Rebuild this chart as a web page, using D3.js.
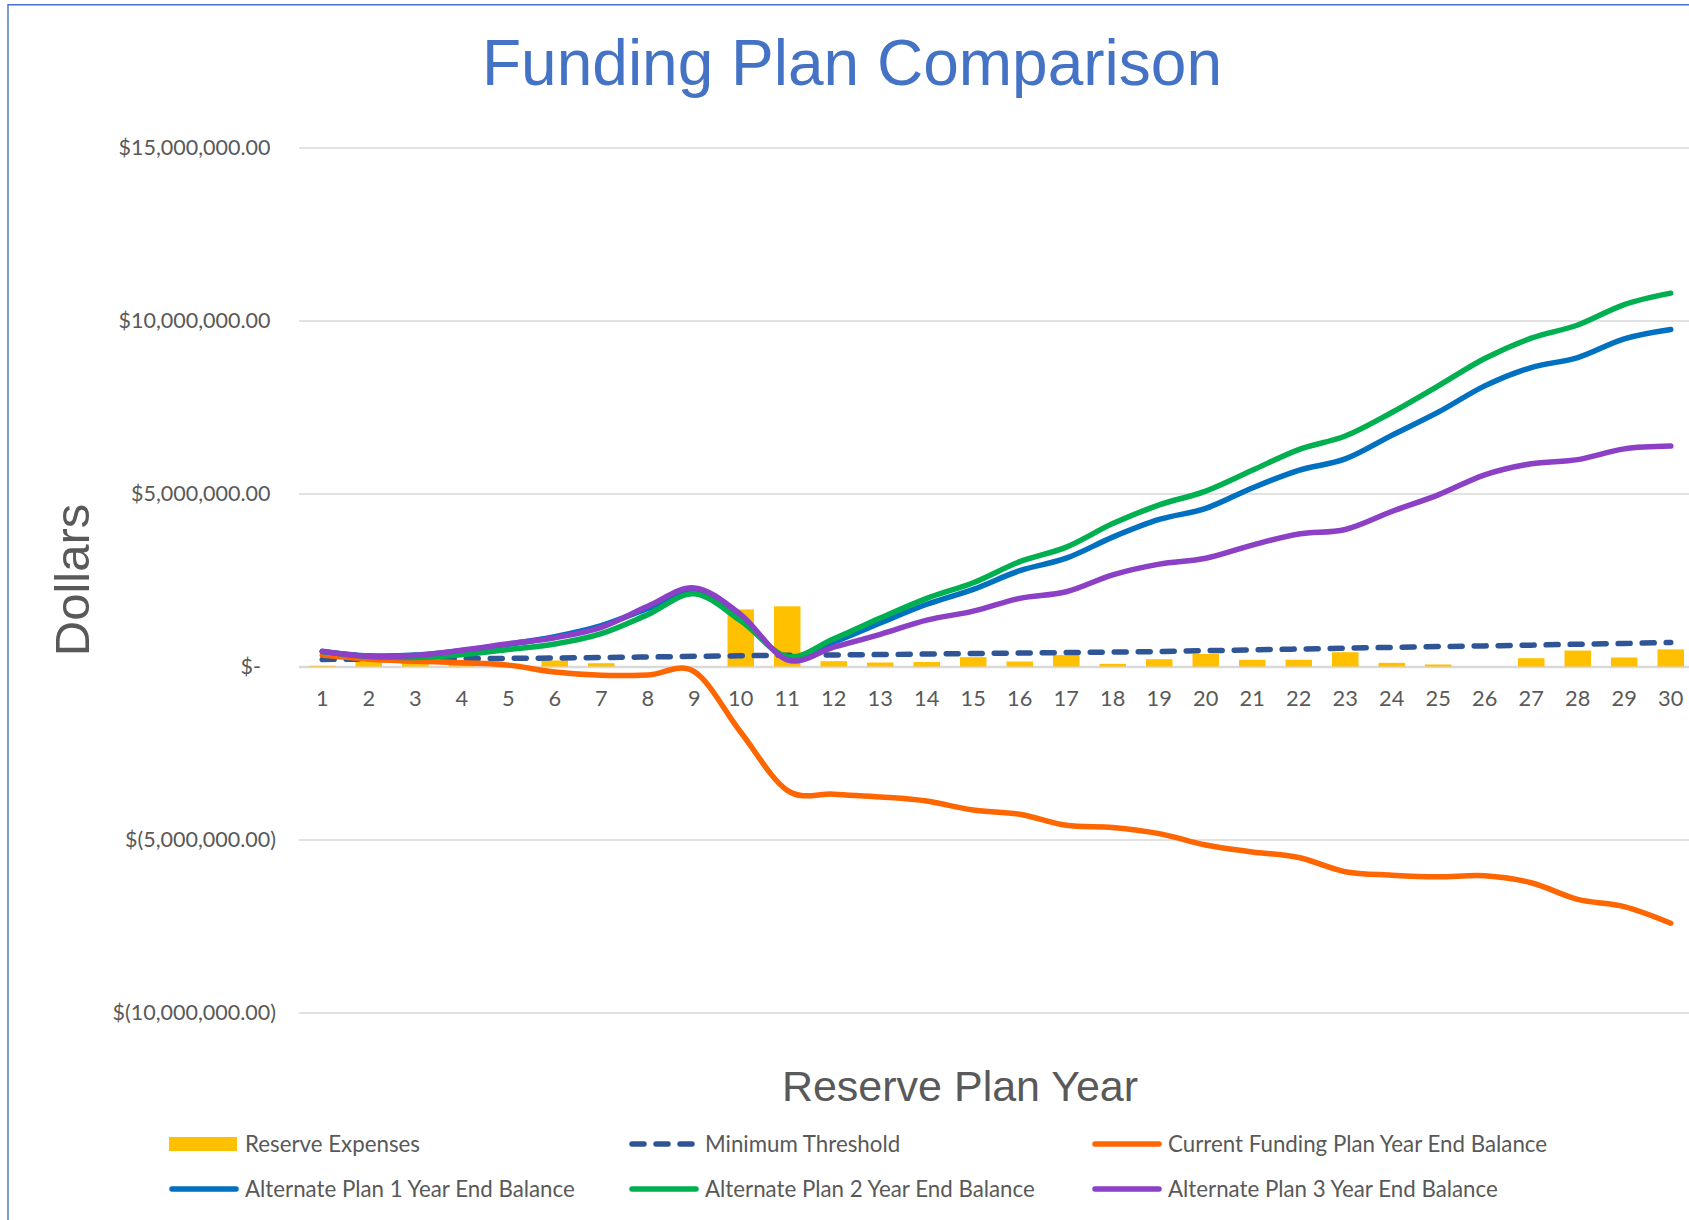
<!DOCTYPE html>
<html>
<head>
<meta charset="utf-8">
<script src="https://cdn.jsdelivr.net/npm/d3@7"></script>
<style>
  html, body { margin: 0; padding: 0; background: #fff; }
  svg { display: block; }
</style>
</head>
<body>
<div id="chart"></div>
<script>
// categories
const years = [1, 2, 3, 4, 5, 6, 7, 8, 9, 10, 11, 12, 13, 14, 15,
	16, 17, 18, 19, 20, 21, 22, 23, 24, 25, 26, 27, 28, 29, 30];

// series values (dollars)
const reserveExpenses = [20000, 150000, 100000, 60000, 80000, 175000, 96000, 0, 0, 1650000,
	1740000, 154000, 115000, 130000, 270000, 144000, 330000, 77000, 211000, 365000,
	195000, 195000, 413000, 106000, 58000, 0, 240000, 461000, 260000, 495000];

const minimumThreshold = [205000, 210000, 218000, 226000, 235000, 245000, 260000, 275000, 295000, 310000,
	325000, 335000, 345000, 360000, 375000, 390000, 404000, 418000, 433000, 458000,
	480000, 505000, 529000, 553000, 575000, 596000, 617000, 644000, 665000, 695000];

const currentPlan = [330000, 210000, 155000, 105000, 40000, -160000, -255000, -245000, -150000, -1900000,
	-3580000, -3690000, -3770000, -3890000, -4150000, -4270000, -4590000, -4650000, -4830000, -5160000,
	-5360000, -5520000, -5930000, -6030000, -6080000, -6050000, -6250000, -6730000, -6940000, -7420000];

const altPlan1 = [430000, 310000, 330000, 460000, 640000, 860000, 1180000, 1680000, 2200000, 1390000,
	252000, 707000, 1260000, 1800000, 2230000, 2770000, 3130000, 3740000, 4250000, 4570000,
	5160000, 5670000, 6000000, 6680000, 7350000, 8110000, 8640000, 8930000, 9470000, 9740000];

const altPlan2 = [430000, 290000, 260000, 340000, 490000, 650000, 950000, 1500000, 2100000, 1320000,
	290000, 800000, 1400000, 1970000, 2420000, 3030000, 3450000, 4130000, 4670000, 5070000,
	5670000, 6270000, 6660000, 7340000, 8110000, 8900000, 9490000, 9870000, 10460000, 10790000];

const altPlan3 = [440000, 295000, 320000, 470000, 655000, 830000, 1130000, 1740000, 2270000, 1500000,
	194000, 560000, 930000, 1340000, 1600000, 1970000, 2160000, 2650000, 2960000, 3130000,
	3510000, 3830000, 3960000, 4480000, 4960000, 5540000, 5860000, 5980000, 6290000, 6370000];

// tick labels
const yTicks = [-10000000, -5000000, 0, 5000000, 10000000, 15000000];
const yTickLabels = ['$(10,000,000.00)', '$(5,000,000.00)', '$-', '$5,000,000.00', '$10,000,000.00', '$15,000,000.00'];

const lineSeries = [
	{ name: 'Minimum Threshold', values: minimumThreshold, color: '#2F5597', dashed: true },
	{ name: 'Current Funding Plan Year End Balance', values: currentPlan, color: '#FF6600' },
	{ name: 'Alternate Plan 1 Year End Balance', values: altPlan1, color: '#0070C0' },
	{ name: 'Alternate Plan 2 Year End Balance', values: altPlan2, color: '#00B050' },
	{ name: 'Alternate Plan 3 Year End Balance', values: altPlan3, color: '#8B40C6' }
];

const width = 1689;
const height = 1220;
const plotLeft = 299;
const step = 46.5;
const lineWidth = 5.5;
const textColor = '#595959';
const tickFont = 'Lato, "Open Sans", sans-serif';

const svg = d3.select('#chart').append('svg')
	.attr('width', width)
	.attr('height', height);

// frame (only top and left edges visible)
svg.append('path')
	.attr('d', `M8,${height} L8,4.7 L${width},4.7`)
	.attr('fill', 'none')
	.attr('stroke', '#4472C4')
	.attr('stroke-width', 1.4);

const x = d3.scaleBand()
	.domain(years)
	.range([plotLeft, plotLeft + years.length * step])
	.paddingInner(0.43)
	.paddingOuter(0.215);

const y = d3.scaleLinear()
	.domain([-10000000, 15000000])
	.range([1012.5, 147.5]);

// gridlines + y labels
const yAxis = svg.append('g')
	.attr('transform', `translate(${plotLeft},0)`)
	.call(d3.axisLeft(y)
		.tickValues(yTicks)
		.tickSize(-(width - plotLeft))
		.tickPadding(23)
		.tickFormat((d, i) => yTickLabels[i]));

yAxis.select('.domain').remove();
yAxis.selectAll('.tick line')
	.attr('stroke', '#D9D9D9')
	.attr('stroke-width', d => d === 0 ? 2.6 : 1.5);
yAxis.selectAll('.tick text')
	.attr('fill', textColor)
	.style('font-family', tickFont)
	.style('font-size', '21.5px')
	.attr('x', function(d, i) {
		const lab = yTickLabels[i];
		if (lab === '$-') return -38;
		return lab.endsWith(')') ? -23 : -28.5;
	});

// bars
svg.append('g')
	.selectAll('rect')
	.data(years.map((yr, i) => ({ year: yr, value: reserveExpenses[i] })))
	.enter().append('rect')
	.attr('x', d => x(d.year))
	.attr('width', x.bandwidth())
	.attr('y', d => y(Math.max(0, d.value)))
	.attr('height', d => Math.abs(y(d.value) - y(0)))
	.attr('fill', '#FFC000');

// lines
const line = d3.line()
	.x(d => x(d.year) + x.bandwidth() / 2)
	.y(d => y(d.value))
	.curve(d3.curveCardinal.tension(0));

lineSeries.forEach(function(s) {
	svg.append('path')
		.datum(years.map((yr, i) => ({ year: yr, value: s.values[i] })))
		.attr('fill', 'none')
		.attr('stroke', s.color)
		.attr('stroke-width', lineWidth)
		.attr('stroke-linecap', 'round')
		.attr('stroke-linejoin', 'round')
		.attr('stroke-dasharray', s.dashed ? '12,12' : null)
		.attr('d', line);
});

// x labels
const xAxis = svg.append('g')
	.attr('transform', `translate(0,${y(0)})`)
	.call(d3.axisBottom(x).tickSize(0).tickPadding(0));
xAxis.select('.domain').remove();
xAxis.selectAll('.tick text')
	.attr('y', 32)
	.attr('dy', '0.35em')
	.attr('fill', textColor)
	.style('font-family', tickFont)
	.style('font-size', '21.8px');

// titles
svg.append('text')
	.attr('x', 852)
	.attr('y', 85)
	.attr('text-anchor', 'middle')
	.attr('fill', '#4472C4')
	.style('font-family', '"Liberation Sans", Arial, sans-serif')
	.style('font-size', '64px')
	.text('Funding Plan Comparison');

svg.append('text')
	.attr('x', 960)
	.attr('y', 1101)
	.attr('text-anchor', 'middle')
	.attr('fill', textColor)
	.style('font-family', '"Liberation Sans", Arial, sans-serif')
	.style('font-size', '43px')
	.text('Reserve Plan Year');

svg.append('text')
	.attr('transform', 'translate(89,580) rotate(-90)')
	.attr('text-anchor', 'middle')
	.attr('fill', textColor)
	.style('font-family', '"Liberation Sans", Arial, sans-serif')
	.style('font-size', '49px')
	.text('Dollars');

// legend
const legendItems = [
	{ name: 'Reserve Expenses', color: '#FFC000', bar: true },
	lineSeries[0], lineSeries[1], lineSeries[2], lineSeries[3], lineSeries[4]
];
const legendCols = [169, 629, 1092];
const legendRows = [1144, 1189];

legendItems.forEach(function(item, i) {
	const lx = legendCols[i % 3];
	const ly = legendRows[Math.floor(i / 3)];
	const g = svg.append('g').attr('transform', `translate(${lx},${ly})`);
	if (item.bar) {
		g.append('rect')
			.attr('x', 0).attr('y', -7)
			.attr('width', 68).attr('height', 14)
			.attr('fill', item.color);
	} else {
		g.append('line')
			.attr('x1', 3).attr('x2', 67)
			.attr('y1', 0).attr('y2', 0)
			.attr('stroke', item.color)
			.attr('stroke-width', lineWidth)
			.attr('stroke-linecap', 'round')
			.attr('stroke-dasharray', item.dashed ? '12,12' : null);
	}
	g.append('text')
		.attr('x', 76)
		.attr('dy', '0.35em')
		.attr('fill', textColor)
		.style('font-family', tickFont)
		.style('font-size', '22.3px')
		.text(item.name);
});
</script>
</body>
</html>
